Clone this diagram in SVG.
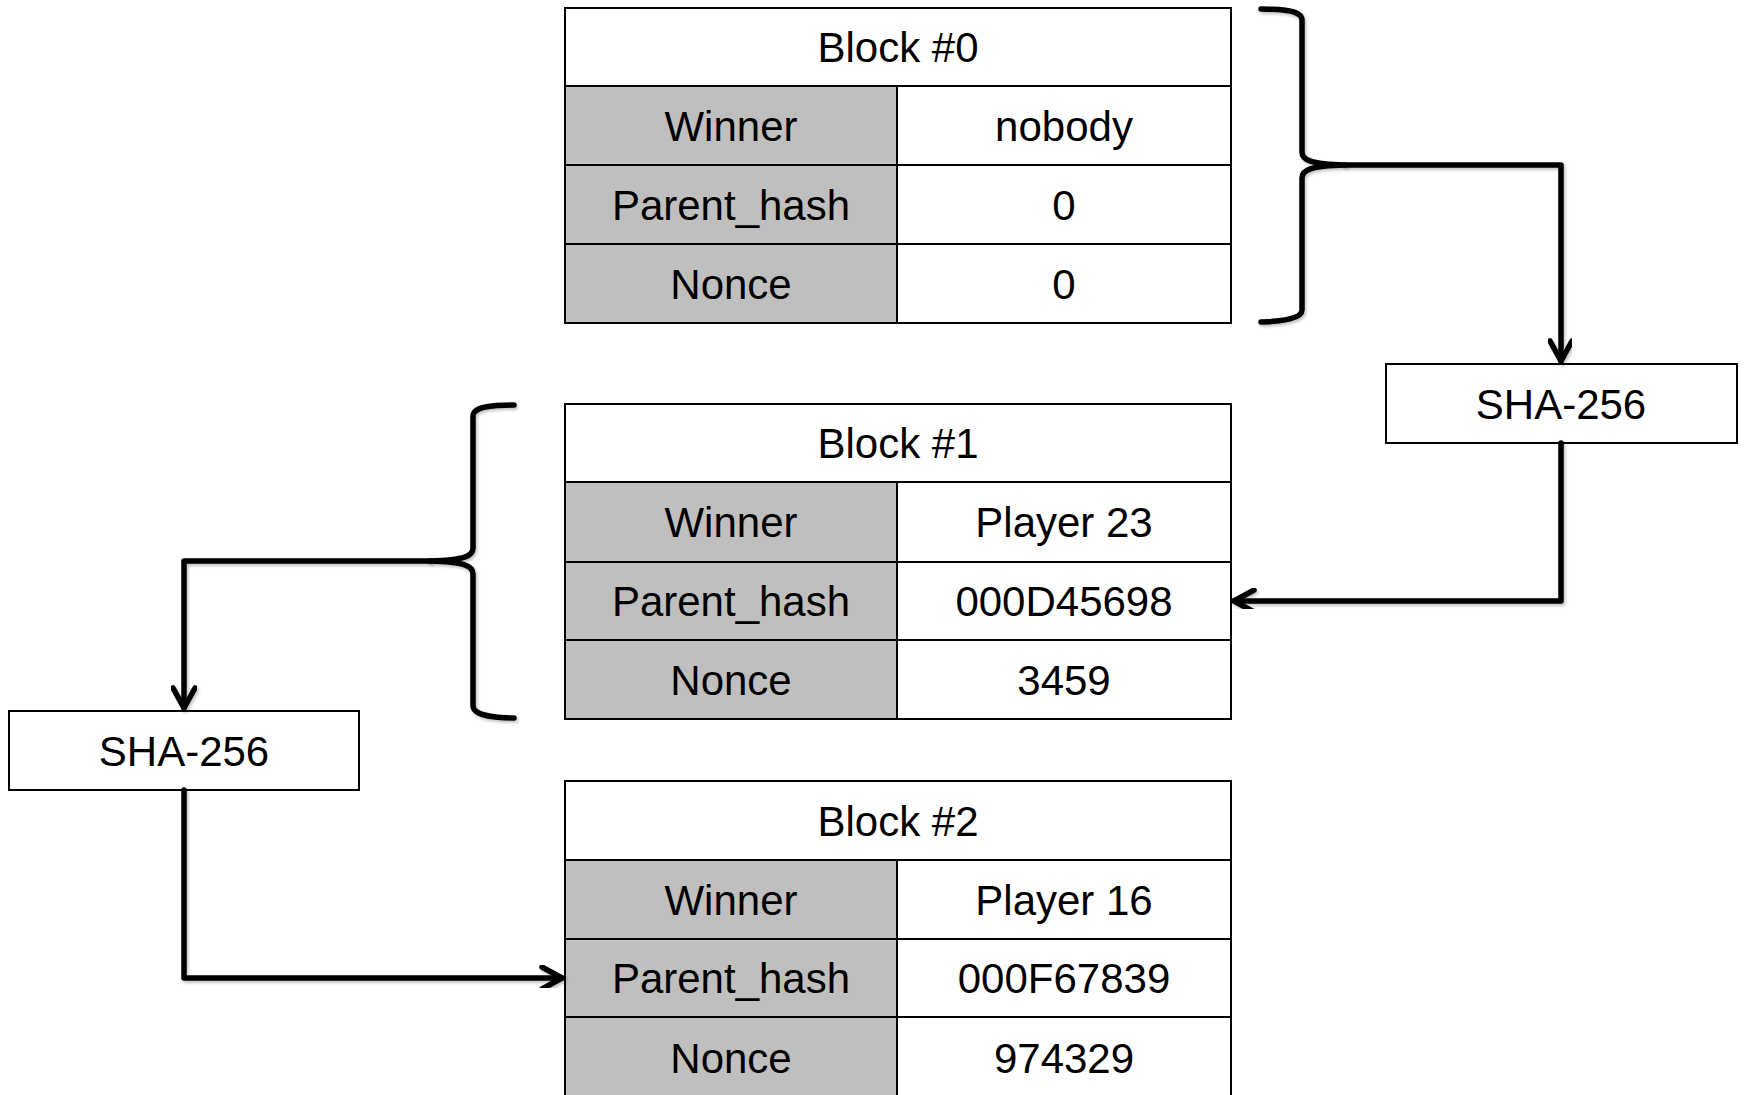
<svg xmlns="http://www.w3.org/2000/svg" width="1745" height="1095" viewBox="0 0 1745 1095">
  <style>
    text { font-family: "Liberation Sans", Arial, sans-serif; font-size: 42px; fill: #000; text-anchor: middle; }
    .cell { stroke: #000; stroke-width: 2; }
    .key { fill: #bfbfbf; }
    .val { fill: #fff; }
    .box { fill: #fff; stroke: #000; stroke-width: 2; }
    .wire { fill: none; stroke: #000; stroke-width: 5.5; stroke-linejoin: round; stroke-linecap: round; filter: url(#soft); }
  </style>
  <defs>
    <filter id="soft" x="-5%" y="-5%" width="110%" height="110%">
      <feDropShadow dx="1.5" dy="2" stdDeviation="1.5" flood-color="#000" flood-opacity="0.25"/>
    </filter>
    <marker id="chev" viewBox="0 0 26 26" refX="23" refY="13" markerWidth="26" markerHeight="26" markerUnits="userSpaceOnUse" orient="auto">
      <path d="M3,2 L23,13 L3,24" fill="none" stroke="#000" stroke-width="5.5" stroke-linecap="round" stroke-linejoin="round"/>
    </marker>
  </defs>

  <!-- Block #0 -->
  <g id="block0">
    <rect class="cell val" x="565" y="8" width="666" height="78"/>
    <rect class="cell key" x="565" y="86" width="332" height="79"/>
    <rect class="cell val" x="897" y="86" width="334" height="79"/>
    <rect class="cell key" x="565" y="165" width="332" height="79"/>
    <rect class="cell val" x="897" y="165" width="334" height="79"/>
    <rect class="cell key" x="565" y="244" width="332" height="79"/>
    <rect class="cell val" x="897" y="244" width="334" height="79"/>
    <text x="898" y="62">Block #0</text>
    <text x="731" y="141">Winner</text>
    <text x="1064" y="141">nobody</text>
    <text x="731" y="220">Parent_hash</text>
    <text x="1064" y="220">0</text>
    <text x="731" y="299">Nonce</text>
    <text x="1064" y="299">0</text>
  </g>

  <!-- Block #1 -->
  <g id="block1">
    <rect class="cell val" x="565" y="404" width="666" height="78"/>
    <rect class="cell key" x="565" y="482" width="332" height="80"/>
    <rect class="cell val" x="897" y="482" width="334" height="80"/>
    <rect class="cell key" x="565" y="562" width="332" height="78"/>
    <rect class="cell val" x="897" y="562" width="334" height="78"/>
    <rect class="cell key" x="565" y="640" width="332" height="79"/>
    <rect class="cell val" x="897" y="640" width="334" height="79"/>
    <text x="898" y="458">Block #1</text>
    <text x="731" y="537">Winner</text>
    <text x="1064" y="537">Player 23</text>
    <text x="731" y="616">Parent_hash</text>
    <text x="1064" y="616">000D45698</text>
    <text x="731" y="695">Nonce</text>
    <text x="1064" y="695">3459</text>
  </g>

  <!-- Block #2 -->
  <g id="block2">
    <rect class="cell val" x="565" y="781" width="666" height="79"/>
    <rect class="cell key" x="565" y="860" width="332" height="79"/>
    <rect class="cell val" x="897" y="860" width="334" height="79"/>
    <rect class="cell key" x="565" y="939" width="332" height="78"/>
    <rect class="cell val" x="897" y="939" width="334" height="78"/>
    <rect class="cell key" x="565" y="1017" width="332" height="82"/>
    <rect class="cell val" x="897" y="1017" width="334" height="82"/>
    <text x="898" y="836">Block #2</text>
    <text x="731" y="915">Winner</text>
    <text x="1064" y="915">Player 16</text>
    <text x="731" y="993">Parent_hash</text>
    <text x="1064" y="993">000F67839</text>
    <text x="731" y="1073">Nonce</text>
    <text x="1064" y="1073">974329</text>
  </g>

  <!-- Hash function boxes -->
  <g id="sha-right">
    <rect class="box" x="1386" y="364" width="351" height="79"/>
    <text x="1561" y="419">SHA-256</text>
  </g>
  <g id="sha-left">
    <rect class="box" x="9" y="711" width="350" height="79"/>
    <text x="184" y="766">SHA-256</text>
  </g>

  <!-- Braces and arrows -->
  <g id="connectors">
    <!-- brace over block #0, feeding the right hash box -->
    <path class="wire" d="M1261,9 C1285,9 1302,11 1302,20 L1302,152 C1302,160 1310,164 1345,165 C1310,166 1302,170 1302,178 L1302,310 C1302,318 1285,321 1261,322"/>
    <path class="wire" d="M1345,165 L1561,165 L1561,361" marker-end="url(#chev)"/>
    <path class="wire" d="M1561,443 L1561,601 L1234,601" marker-end="url(#chev)"/>
    <!-- brace over block #1, feeding the left hash box -->
    <path class="wire" d="M514,405 C490,405 473,407 473,416 L473,548 C473,556 465,560 430,561 C465,562 473,566 473,574 L473,706 C473,714 490,718 514,718"/>
    <path class="wire" d="M430,561 L184,561 L184,708" marker-end="url(#chev)"/>
    <path class="wire" d="M184,790 L184,978 L562,978" marker-end="url(#chev)"/>
  </g>
</svg>
